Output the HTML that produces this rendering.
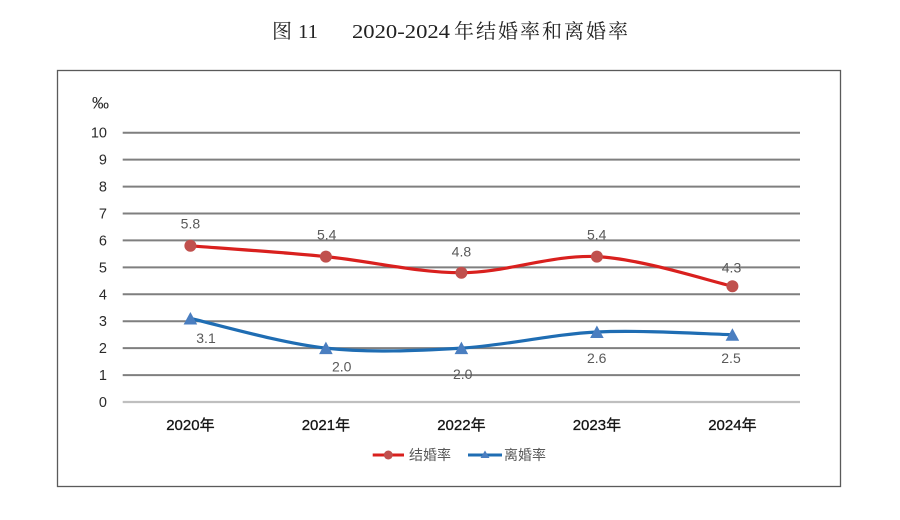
<!DOCTYPE html>
<html>
<head>
<meta charset="utf-8">
<style>
  html,body{margin:0;padding:0;background:#fff;}
  svg{display:block;}
</style>
</head>
<body>
<svg width="900" height="520" viewBox="0 0 900 520" xmlns="http://www.w3.org/2000/svg">
  <rect x="0" y="0" width="900" height="520" fill="#fff"/>
  <!-- Title -->
  <g font-family="'Liberation Serif','Noto Serif CJK SC',serif" fill="#222">
    <text x="272" y="38" font-size="20">图</text>
    <text x="298" y="38" font-size="20" textLength="20" lengthAdjust="spacingAndGlyphs">11</text>
    <text x="352" y="38" font-size="20" textLength="98" lengthAdjust="spacingAndGlyphs">2020-2024</text>
    <text x="454" y="38" font-size="20" textLength="174" lengthAdjust="spacing">年结婚率和离婚率</text>
  </g>

  <!-- Frame -->
  <rect x="57.5" y="70.5" width="783" height="416" fill="none" stroke="#5a5a5a" stroke-width="1.3"/>

  <!-- Gridlines -->
  <g stroke="#7f7f7f" stroke-width="2">
    <line x1="122.7" y1="132.7" x2="800" y2="132.7"/>
    <line x1="122.7" y1="159.6" x2="800" y2="159.6"/>
    <line x1="122.7" y1="186.6" x2="800" y2="186.6"/>
    <line x1="122.7" y1="213.5" x2="800" y2="213.5"/>
    <line x1="122.7" y1="240.4" x2="800" y2="240.4"/>
    <line x1="122.7" y1="267.4" x2="800" y2="267.4"/>
    <line x1="122.7" y1="294.3" x2="800" y2="294.3"/>
    <line x1="122.7" y1="321.2" x2="800" y2="321.2"/>
    <line x1="122.7" y1="348.1" x2="800" y2="348.1"/>
    <line x1="122.7" y1="375.1" x2="800" y2="375.1"/>
  </g>
  <line x1="122.7" y1="402" x2="800" y2="402" stroke="#bfbfbf" stroke-width="2.2"/>

  <!-- Y labels -->
  <g font-family="'Liberation Sans',sans-serif" font-size="14.5" fill="#2a2a2a" text-anchor="end">
    <text x="109" y="108.5" font-size="17">‰</text>
    <text x="107" y="137.7">10</text>
    <text x="107" y="164.6">9</text>
    <text x="107" y="191.6">8</text>
    <text x="107" y="218.5">7</text>
    <text x="107" y="245.4">6</text>
    <text x="107" y="272.4">5</text>
    <text x="107" y="299.3">4</text>
    <text x="107" y="326.2">3</text>
    <text x="107" y="353.1">2</text>
    <text x="107" y="380.1">1</text>
    <text x="107" y="407">0</text>
  </g>

  <!-- X labels -->
  <g font-family="'Liberation Sans','Noto Sans CJK SC',sans-serif" font-size="15" fill="#151515" text-anchor="middle" stroke="#151515" stroke-width="0.3">
    <text x="190.4" y="430">2020年</text>
    <text x="325.9" y="430">2021年</text>
    <text x="461.4" y="430">2022年</text>
    <text x="596.9" y="430">2023年</text>
    <text x="732.4" y="430">2024年</text>
  </g>

  <!-- Red series -->
  <path d="M190.4,245.8 C213.0,247.6 280.7,252.1 325.9,256.6 C371.1,261.1 416.2,272.7 461.4,272.7 C506.6,272.7 551.7,254.4 596.9,256.6 C642.1,258.85 709.8,281.3 732.4,286.2"
        fill="none" stroke="#d9201e" stroke-width="3.2" stroke-linecap="round"/>
  <g fill="#c0504d">
    <circle cx="190.4" cy="245.8" r="6"/>
    <circle cx="325.9" cy="256.6" r="6"/>
    <circle cx="461.4" cy="272.7" r="6"/>
    <circle cx="596.9" cy="256.6" r="6"/>
    <circle cx="732.4" cy="286.2" r="6"/>
  </g>

  <!-- Blue series -->
  <path d="M190.4,318.5 C213.0,323.4 280.7,343.2 325.9,348.1 C371.1,353.0 416.2,350.8 461.4,348.1 C506.6,345.4 551.7,334.2 596.9,332.0 C642.1,329.8 709.8,334.25 732.4,334.7"
        fill="none" stroke="#1f6db3" stroke-width="3.2" stroke-linecap="round"/>
  <g fill="#4a7ec0">
    <polygon points="190.4,312 197.2,324.5 183.6,324.5"/>
    <polygon points="325.9,341.6 332.7,354.1 319.1,354.1"/>
    <polygon points="461.4,341.6 468.2,354.1 454.6,354.1"/>
    <polygon points="596.9,325.5 603.7,338 590.1,338"/>
    <polygon points="732.4,328.2 739.2,340.7 725.6,340.7"/>
  </g>

  <!-- Data labels -->
  <g font-family="'Liberation Sans',sans-serif" font-size="14" fill="#595959" text-anchor="middle">
    <text x="190.4" y="228.5">5.8</text>
    <text x="326.7" y="239.5">5.4</text>
    <text x="461.4" y="256.5">4.8</text>
    <text x="596.7" y="239.5">5.4</text>
    <text x="731.5" y="272.5">4.3</text>
    <text x="206" y="343">3.1</text>
    <text x="341.7" y="371.5">2.0</text>
    <text x="462.7" y="379">2.0</text>
    <text x="596.7" y="363">2.6</text>
    <text x="731" y="363">2.5</text>
  </g>

  <!-- Legend -->
  <line x1="372.7" y1="455" x2="404" y2="455" stroke="#d9201e" stroke-width="3"/>
  <circle cx="388.3" cy="455" r="4.5" fill="#c0504d"/>
  <text x="409" y="460" font-family="'Liberation Sans','Noto Sans CJK SC',sans-serif" font-size="14" fill="#595959">结婚率</text>
  <line x1="468" y1="455" x2="502" y2="455" stroke="#1f6db3" stroke-width="3"/>
  <polygon points="485,450.5 489.5,458 480.5,458" fill="#4a7ec0"/>
  <text x="504" y="460" font-family="'Liberation Sans','Noto Sans CJK SC',sans-serif" font-size="14" fill="#595959">离婚率</text>
</svg>
</body>
</html>
